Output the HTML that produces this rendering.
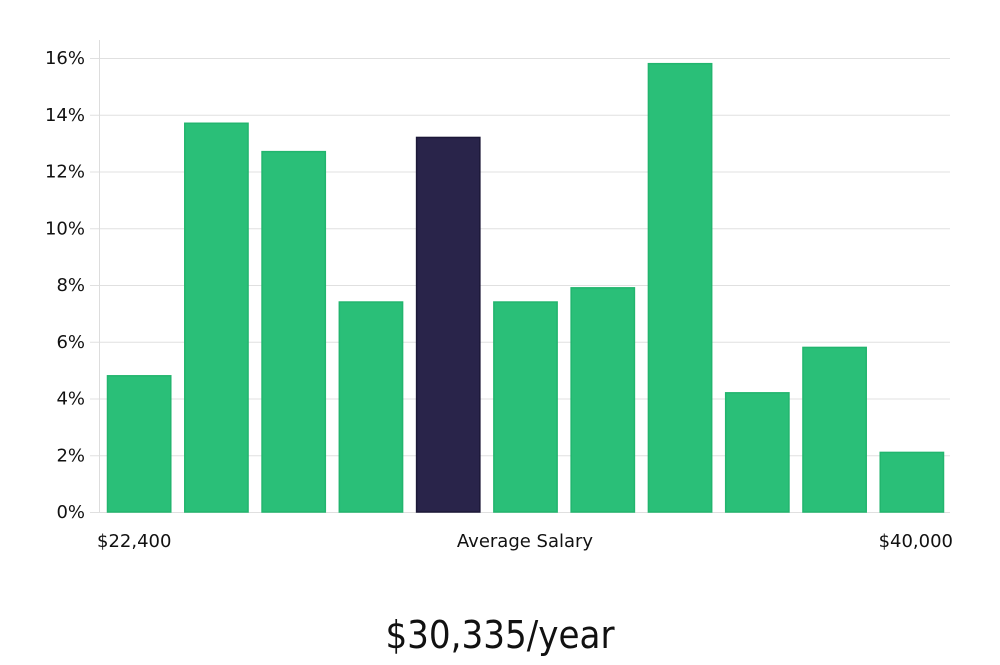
<!DOCTYPE html>
<html><head><meta charset="utf-8"><style>
body{margin:0;background:#fff;width:1000px;height:660px;overflow:hidden}
svg text{font-family:"DejaVu Sans","Liberation Sans",sans-serif;fill:#111}
</style></head><body>
<svg id="chart" width="1000" height="660" xmlns="http://www.w3.org/2000/svg">
<g id="grid"></g>
<g id="bars"></g>
<g id="yticks"></g>
<line x1="99.5" y1="40" x2="99.5" y2="512" stroke="#ddd" stroke-width="1"/>
<text x="97" y="547" font-size="18">$22,400</text>
<text x="525" y="547" font-size="18" text-anchor="middle">Average Salary</text>
<text x="953" y="547" font-size="18" text-anchor="end">$40,000</text>
<text x="500" y="648" font-size="38" text-anchor="middle" style="font-family:'Liberation Sans Narrow','DejaVu Sans Condensed',sans-serif;font-stretch:condensed">$30,335/year</text>
</svg>
<script>
const values=[4.8,13.7,12.7,7.4,13.2,7.4,7.9,15.8,4.2,5.8,2.1];
const highlight=[false,false,false,false,true,false,false,false,false,false,false];
const yTicks=[0,2,4,6,8,10,12,14,16];
const NS="http://www.w3.org/2000/svg";
const y0=512,pxPer=(512-58)/16,xL=100,xR=950;
const y=v=>y0-v*pxPer;
const step=(xR-xL)/values.length;
const grid=document.getElementById('grid'),bars=document.getElementById('bars'),yt=document.getElementById('yticks');
yTicks.forEach(t=>{
 const l=document.createElementNS(NS,'line');
 
 
 l.setAttribute('x1',90);l.setAttribute('x2',xR);l.setAttribute('y1',y(t)+0.5);l.setAttribute('y2',y(t)+0.5);
 l.setAttribute('stroke','#e0e0e0');grid.appendChild(l);
 const tx=document.createElementNS(NS,'text');
 
 
 tx.setAttribute('x',85);tx.setAttribute('y',y(t)+6);tx.setAttribute('text-anchor','end');tx.setAttribute('font-size','18');
 tx.textContent=t+'%';yt.appendChild(tx);
});
values.forEach((v,i)=>{
 const r=document.createElementNS(NS,'rect');
 
 
 r.setAttribute('x',xL+i*step+7.5);r.setAttribute('width',step-14);
 r.setAttribute('y',y(v));r.setAttribute('height',y0-y(v));
 r.setAttribute('fill',highlight[i]?'#29244a':'#2abf78');
 r.setAttribute('stroke',highlight[i]?'#1c1838':'#22b56e');r.setAttribute('stroke-width','1.5');
 bars.appendChild(r);
});
</script>
</body></html>
